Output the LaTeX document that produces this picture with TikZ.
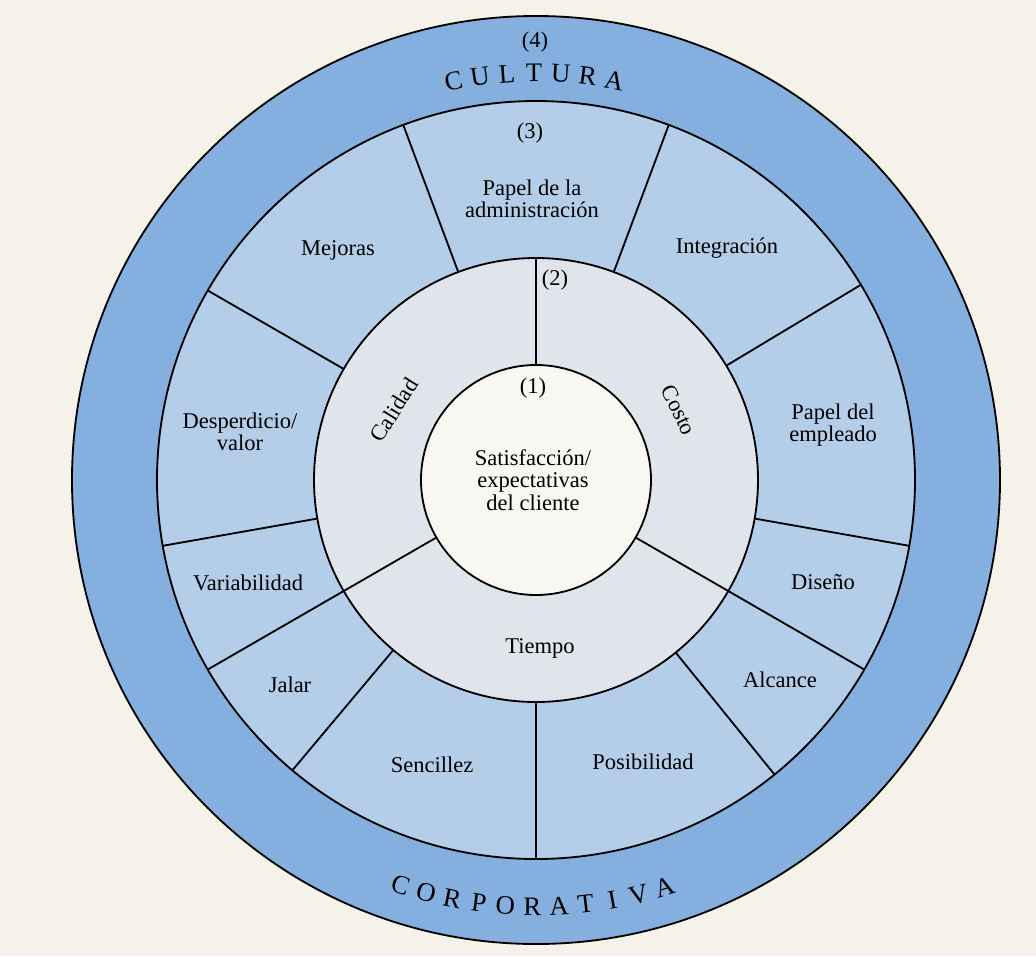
\documentclass[tikz,border=0pt]{standalone}
\usepackage{fontspec}
\setmainfont{Liberation Serif}

\definecolor{paper}{RGB}{245,242,233}
\definecolor{cultura}{RGB}{132,175,222}
\definecolor{sectors}{RGB}{180,205,232}
\definecolor{triad}{RGB}{224,229,236}
\definecolor{core}{RGB}{248,247,242}

\begin{document}
\begin{tikzpicture}
	[x=0.025cm,y=0.025cm,
	%%%%%%%%%%%%%%%%%%%%%%%%%%%%%%
	ring/.style={draw=black,line width=1.3pt},
	lbl/.style={align=center,inner sep=1pt,font=\fontsize{16}{16}\selectfont},
	capital/.style={inner sep=0pt,font=\fontsize{19}{19}\selectfont},
	]%%%%%%%%%%%%%%%%%%%%%%%%%%%%%%

	\fill[paper] (-536,-476) rectangle (500,480);
	\useasboundingbox (-536,-476) rectangle (500,480);

	% the four rings, outside in
	\filldraw[ring,fill=cultura] (0,0) circle (464);
	\filldraw[ring,fill=sectors] (0,0) circle (379);
	\filldraw[ring,fill=triad] (0,0) circle (222);
	\filldraw[ring,fill=core] (0,0) circle (115);

	% spokes
	\foreach \a in {150,110.5,69.5,31,-10,-51,-90,-130,-170}
		\draw[ring] (\a:222) -- (\a:379);
	\foreach \a in {-30,-150}
		\draw[ring] (\a:115) -- (\a:379);
	\draw[ring] (90:115) -- (90:222);

	% (1)
	\node[lbl] (n1) at (-3,92) {(1)};
	\node[lbl] (cliente) at (-3,0) {Satisfacción/\\expectativas\\del cliente};

	% (2)
	\node[lbl] (n2) at (19,200) {(2)};
	\node[lbl,rotate=58] (calidad) at (-142,70) {Calidad};
	\node[lbl,rotate=-64] (costo) at (143,70) {Costo};
	\node[lbl] (tiempo) at (4,-168) {Tiempo};

	% (3)
	\node[lbl] (n3) at (-6,347) {(3)};
	\node[lbl] (admin) at (-4,281) {Papel de la\\administración};
	\node[lbl] (integ) at (191,232) {Integración};
	\node[lbl] (empleado) at (297,55) {Papel del\\empleado};
	\node[lbl] (diseno) at (287,-102) {Diseño};
	\node[lbl] (alcance) at (244,-200) {Alcance};
	\node[lbl] (posib) at (107,-282) {Posibilidad};
	\node[lbl] (sencillez) at (-104,-285) {Sencillez};
	\node[lbl] (jalar) at (-246,-205) {Jalar};
	\node[lbl] (variab) at (-288,-103) {Variabilidad};
	\node[lbl] (desp) at (-296,48) {Desperdicio/\\valor};
	\node[lbl] (mejoras) at (-198,230) {Mejoras};

	% (4)
	\node[lbl] (n4) at (-1,438) {(4)};
	\foreach \l [count=\i from 0, evaluate=\i as \ang using 101.7-3.8*\i] in {C,U,L,T,U,R,A}
		\node[capital,rotate=\ang-90] (top\i) at (\ang:407) {\l};
	\foreach \l [count=\i from 0, evaluate=\i as \ang using -108.5+3.6*\i] in {C,O,R,P,O,R,A,T,I,V,A}
		\node[capital,rotate=\ang+90] (bot\i) at (\ang:427) {\l};

\end{tikzpicture}
\end{document}
